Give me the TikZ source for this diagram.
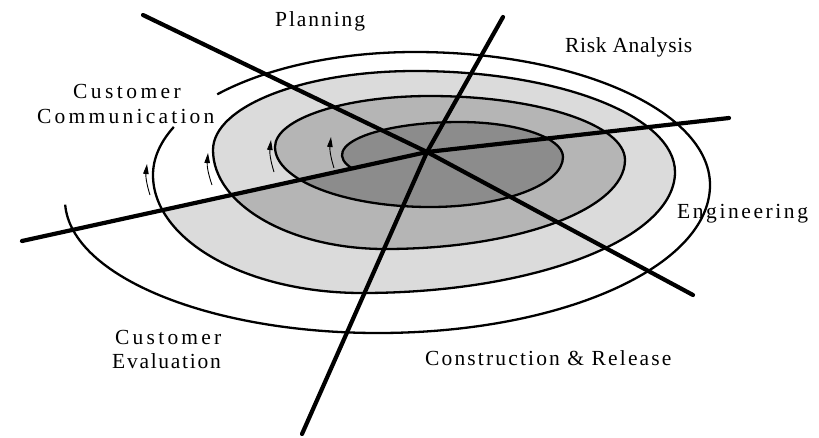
\documentclass[tikz,border=0pt]{standalone}
\usepackage{fontspec}
\setmainfont{Liberation Serif}
\usetikzlibrary{calc,arrows.meta}
\definecolor{darkfill}{gray}{0.55}
\definecolor{medfill}{gray}{0.71}
\definecolor{lightfill}{gray}{0.86}
\newcommand\lblfont{\fontsize{21.5}{25}\selectfont}
\newcommand\spc[1]{\addfontfeatures{LetterSpace=#1}}
\tikzset{
  spiral/.style={line width=2.3pt, line join=round},
  axisline/.style={line width=4.2pt, line cap=round, line join=round},
  flow/.style={line width=0.9pt, -{Triangle[length=10pt,width=5.5pt]}},
  lbl/.style={inner sep=0pt, anchor=base west, font=\lblfont},
}
\begin{document}
\begin{tikzpicture}[x=1pt,y=-1pt]
\useasboundingbox (0,0) rectangle (819,437);
\fill[white] (0,0) rectangle (819,437);

% ---- fills (painter's order) ----
\fill[lightfill] ($(385,150)+(-153:172pt and 99pt)$)
  arc[start angle=-153,end angle=-180,x radius=172pt,y radius=99pt]
  arc[start angle=180,end angle=90,x radius=202pt,y radius=79pt]
  arc[start angle=90,end angle=0,x radius=260pt,y radius=101pt]
  arc[start angle=0,end angle=-90,x radius=313pt,y radius=121pt]
  arc[start angle=-90,end angle=-162.7,x radius=209pt,y radius=118pt]
  -- cycle;
\fill[medfill] ($(430,147)+(-146.8:155pt and 60pt)$)
  arc[start angle=-146.8,end angle=-180,x radius=155pt,y radius=60pt]
  arc[start angle=180,end angle=90,x radius=155pt,y radius=51pt]
  arc[start angle=90,end angle=0,x radius=195pt,y radius=64pt]
  arc[start angle=0,end angle=-90,x radius=240pt,y radius=89pt]
  arc[start angle=-90,end angle=-153,x radius=172pt,y radius=99pt]
  -- cycle;
\fill[darkfill] ($(460,155)+(204:118pt and 33pt)$)
  arc[start angle=204,end angle=90,x radius=118pt,y radius=33pt]
  arc[start angle=90,end angle=0,x radius=103pt,y radius=35pt]
  arc[start angle=0,end angle=-90,x radius=133pt,y radius=50pt]
  arc[start angle=-90,end angle=-146.8,x radius=155pt,y radius=60pt]
  -- cycle;

% ---- spiral ----
\draw[spiral] ($(460,155)+(204:118pt and 33pt)$)
  arc[start angle=204,end angle=90,x radius=118pt,y radius=33pt]
  arc[start angle=90,end angle=0,x radius=103pt,y radius=35pt]
  arc[start angle=0,end angle=-90,x radius=133pt,y radius=50pt]
  arc[start angle=-90,end angle=-180,x radius=155pt,y radius=60pt]
  arc[start angle=180,end angle=90,x radius=155pt,y radius=51pt]
  arc[start angle=90,end angle=0,x radius=195pt,y radius=64pt]
  arc[start angle=0,end angle=-90,x radius=240pt,y radius=89pt]
  arc[start angle=-90,end angle=-180,x radius=172pt,y radius=99pt]
  arc[start angle=180,end angle=90,x radius=202pt,y radius=79pt]
  arc[start angle=90,end angle=0,x radius=260pt,y radius=101pt]
  arc[start angle=0,end angle=-90,x radius=313pt,y radius=121pt]
  arc[start angle=-90,end angle=-180,x radius=209pt,y radius=118pt]
  arc[start angle=180,end angle=157,x radius=262pt,y radius=123pt];
\draw[spiral] ($(415,175)+(139:262pt and 123pt)$)
  arc[start angle=139,end angle=90,x radius=262pt,y radius=123pt]
  arc[start angle=90,end angle=0,x radius=295pt,y radius=133pt]
  arc[start angle=0,end angle=-90,x radius=332pt,y radius=148pt]
  arc[start angle=-90,end angle=-178,x radius=313pt,y radius=133pt];

% ---- axes ----
\coordinate (O) at (427,152);
\coordinate (ul) at (143,15);
\coordinate (lr) at (693,295);
\coordinate (tp) at (503,17);
\coordinate (bt) at (302,434);
\coordinate (lf) at (22,241);
\coordinate (rt) at (729,118);
\draw[axisline] (ul) -- (O) -- (lr);
\draw[axisline] (tp) -- (O) -- (bt);
\draw[axisline] (lf) -- (O) -- (rt);

% ---- flow arrows ----
\coordinate (t1) at (334,168); \coordinate (h1) at (331,137);
\coordinate (t2) at (274,172); \coordinate (h2) at (271,140);
\coordinate (t3) at (212,185); \coordinate (h3) at (208,153);
\coordinate (t4) at (150,195); \coordinate (h4) at (147,164);
\draw[flow] (t1) to[bend left=12] (h1);
\draw[flow] (t2) to[bend left=12] (h2);
\draw[flow] (t3) to[bend left=12] (h3);
\draw[flow] (t4) to[bend left=12] (h4);

% ---- labels ----
\node[lbl] (plan) at (275,26) {\spc{9}Planning};
\node[lbl] (risk) at (565,52) {\spc{3}Risk Analysis};
\node[lbl] (cc1) at (73,98) {\spc{16}Customer};
\node[lbl] (cc2) at (37,123) {\spc{15}Communication};
\node[lbl] (eng) at (677,218) {\spc{12}Engineering};
\node[lbl] (ce1) at (115,344) {\spc{15}Customer};
\node[lbl] (ce2) at (112,368) {\spc{8}Evaluation};
\node[lbl] (con) at (425,365) {\spc{10}Construction \& Release};
\end{tikzpicture}
\end{document}
